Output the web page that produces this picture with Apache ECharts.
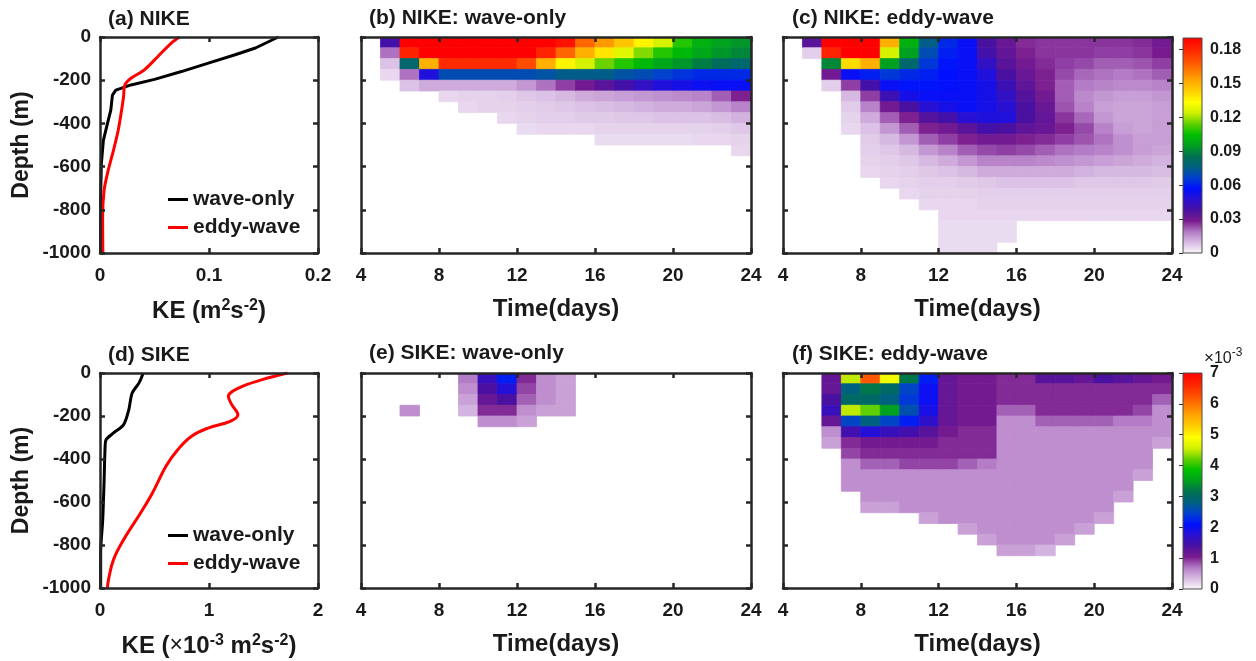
<!DOCTYPE html>
<html><head><meta charset="utf-8">
<script src="https://cdn.jsdelivr.net/npm/echarts@6/dist/echarts.min.js"></script>
<style>html,body{margin:0;padding:0;background:#fff}#c{width:1256px;height:661px}</style>
</head><body><div id="c"></div>
<script>
// ---------- data ----------
const timeEdges = [4,5,6,7,8,9,10,11,12,13,14,15,16,17,18,19,20,21,22,23,24];
const depthEdges = [0,-50,-100,-150,-200,-250,-300,-350,-400,-450,-500,-550,-600,-650,-700,-750,-800,-850,-900,-950,-1000];

// KE fields, one inner array per day column (top -> bottom, 50 m layers); NIKE in 1e-3 m2/s2, SIKE in 1e-4 m2/s2
const nikeWaveCols = [
  [],
  [40,20,8,3],
  [190,180,80,20,8],
  [190,190,150,50,12],
  [190,190,178,70,12,3],
  [190,190,178,70,12,4,3],
  [190,190,178,70,12,4,4],
  [190,190,178,70,12,5,4,3],
  [190,190,170,70,15,7,5,4,2],
  [190,180,150,72,20,8,6,5,3],
  [185,165,135,75,25,10,7,5,3],
  [165,150,125,75,30,12,8,6,3],
  [155,138,115,75,35,13,9,6,4,2],
  [145,127,108,72,40,14,10,7,4,2],
  [135,117,102,70,45,15,11,7,4,2],
  [125,108,97,67,50,16,12,8,4,2],
  [108,102,93,64,52,17,12,8,4,2],
  [100,97,88,62,54,18,13,8,4,3],
  [96,93,83,62,55,22,15,9,5,3],
  [93,90,80,62,55,28,18,11,7,4,3]
];
const nikeEddyCols = [
  [],
  [35,5],
  [190,180,90,30,5],
  [190,190,140,55,25,10,6,4,3],
  [190,190,150,60,40,25,18,12,8,6,5,4,3],
  [150,125,95,65,55,42,30,22,15,10,7,5,4,3],
  [100,95,80,62,58,52,38,28,22,15,10,7,5,4,3],
  [75,70,65,60,58,55,48,36,28,22,15,10,7,5,4,3],
  [62,60,58,57,56,55,52,40,30,25,18,12,8,5,4,3,3,2,2,2],
  [55,55,55,55,55,55,55,48,35,28,22,15,10,6,4,3,3,2,2,2],
  [38,40,45,50,52,52,52,50,40,30,24,18,12,7,5,4,3,2,2,2],
  [32,33,35,38,42,45,48,50,38,30,25,18,12,8,5,4,3,2,2],
  [27,28,30,32,34,36,38,38,34,28,24,18,12,8,5,4,3],
  [26,26,27,28,28,30,32,33,32,27,22,17,12,8,5,4,3],
  [26,26,25,24,22,22,23,26,28,25,20,16,12,8,5,4,3],
  [26,26,24,21,19,17,18,21,24,23,19,15,11,7,5,4,3],
  [26,25,22,20,18,15,14,15,18,20,18,14,10,7,5,4,3],
  [26,25,22,19,17,14,13,13,14,16,16,13,10,7,5,4,3],
  [27,26,23,20,17,14,13,13,13,14,14,12,10,7,5,4,3],
  [30,29,25,22,18,15,14,14,14,14,13,11,9,6,5,4,3]
];
const sikeWaveCols = [
  [], [], [0,0,0,6], [], [],
  [7,6,5,4],
  [16,14,12,10,6],
  [22,18,14,10,6],
  [10,9,8,6,5],
  [6,6,6,5],
  [5,5,5,5],
  [], [], [], [], [], [], [], [], []
];
const sikeEddyCols = [
  [],
  [],
  [12,12,14,16,12,6,5],
  [45,28,30,45,25,15,10,9,6,6,6],
  [62,32,30,42,28,18,11,10,8,6,6,6,5],
  [48,30,28,35,25,16,11,10,8,6,6,6,5],
  [32,25,24,26,22,15,11,10,9,6,6,6,6],
  [22,20,20,19,17,13,11,10,9,6,6,6,6,5],
  [12,12,12,12,12,11,10,10,9,6,6,6,6,6],
  [11,11,11,11,11,10,10,10,8,6,6,6,6,6,5],
  [11,11,11,11,11,10,10,10,7,6,6,6,6,6,6,5],
  [10,10,10,8,6,6,6,6,6,6,6,6,6,6,6,6,5],
  [10,10,10,8,6,6,6,6,6,6,6,6,6,6,6,6,5],
  [13,10,10,10,8,6,6,6,6,6,6,6,6,6,6,6,4],
  [13,10,10,10,8,6,6,6,6,6,6,6,6,6,6,5],
  [12,10,10,10,8,6,6,6,6,6,6,6,6,6,5],
  [14,10,10,10,8,6,6,6,6,6,6,6,6,5],
  [13,10,10,10,7,6,6,6,6,6,6,5],
  [12,10,10,9,7,6,6,6,6,5],
  [11,10,8,6,6,6,5]
];

// time-mean profiles [KE, depth]
const nikeWaveProfile = [[0.1636,0],[0.1426,-51],[0.124,-82],[0.0994,-121],[0.0747,-160],[0.05,-196],[0.0284,-222],[0.0145,-246],[0.0114,-269],[0.0099,-339],[0.0068,-401],[0.0031,-479],[0.0012,-588],[0.0006,-743],[0.0006,-1000]];
const nikeEddyProfile = [[0.0731,0],[0.0654,-28],[0.0531,-90],[0.0407,-152],[0.0284,-191],[0.0228,-222],[0.0216,-277],[0.0198,-339],[0.0167,-432],[0.0123,-526],[0.0074,-619],[0.0037,-712],[0.0024,-837],[0.0026,-1000]];
const sikeWaveProfile = [[0.397,0],[0.357,-47],[0.295,-93],[0.264,-171],[0.217,-240],[0.124,-279],[0.056,-310],[0.047,-341],[0.037,-512],[0.025,-682],[0.006,-837],[0.006,-1000]];
const sikeEddyProfile = [[1.721,0],[1.488,-31],[1.271,-70],[1.178,-109],[1.209,-147],[1.265,-194],[1.194,-225],[0.992,-256],[0.837,-295],[0.713,-357],[0.605,-434],[0.481,-558],[0.372,-651],[0.217,-775],[0.124,-868],[0.078,-961],[0.068,-1000]];

const seriesNames = ['wave-only','eddy-wave'];
const nikeRange = [0, 190];   // 1e-3 units -> 0.19
const sikeRange = [0, 70];    // 1e-4 units -> 7e-3

// ---------- styles ----------
const cmap = ['#efe4f3','#d8bce3','#b47cc6','#7a1c8e','#4a10a0','#2a10d0','#0010ff','#0040d0','#006080','#007050','#00a020','#00c000','#60d000','#d0f000','#ffff00','#ffd000','#ffa800','#ff7800','#ff4800','#ff2000','#ff0000'];
const FONT = "'Liberation Sans', Arial, Helvetica, sans-serif";
const INK = '#262626';
const TXT = '#1a1a1a';

function cells(cols) {
  const out = [];
  cols.forEach((col, c) => col.forEach((v, r) => {
    if (v > 0) out.push([timeEdges[c], timeEdges[c + 1], depthEdges[r], depthEdges[r + 1], v]);
  }));
  return out;
}

function cellRender(params, api) {
  const a = api.coord([api.value(0), api.value(2)]);
  const b = api.coord([api.value(1), api.value(3)]);
  const color = api.visual('color');
  return { type: 'rect', shape: { x: a[0], y: a[1], width: b[0] - a[0], height: b[1] - a[1] },
           style: { fill: color, stroke: color, lineWidth: 0.8 } };
}

const cbStops = cmap.map((c, i) => ({ offset: i / (cmap.length - 1), color: i === 0 ? '#fbf8fc' : c }));
function cbRender(params, api) {
  const a = api.coord([api.value(0), api.value(3)]);
  const b = api.coord([api.value(1), api.value(2)]);
  return { type: 'rect', shape: { x: a[0], y: a[1], width: b[0] - a[0], height: b[1] - a[1] },
           style: { fill: new echarts.graphic.LinearGradient(0, 1, 0, 0, cbStops), stroke: '#4d4d4d', lineWidth: 1 } };
}

const grids = [
  { left: 100, top: 37, width: 218, height: 216 },
  { left: 361, top: 37, width: 390, height: 216 },
  { left: 783, top: 37, width: 389, height: 216 },
  { left: 100, top: 373, width: 218, height: 215 },
  { left: 361, top: 373, width: 390, height: 215 },
  { left: 783, top: 373, width: 389, height: 215 },
  { left: 1183, top: 38, width: 19, height: 215 },
  { left: 1183, top: 373, width: 19, height: 216 }
];

const supRich = {
  s: { fontSize: 16, fontWeight: 'bold', fontFamily: FONT, color: TXT, verticalAlign: 'top', lineHeight: 26 },
  x: { fontSize: 23, fontWeight: 'normal', fontFamily: FONT, color: TXT }
};

function xPair(gi, min, max, interval, name, nameGap, nameSize) {
  const base = { gridIndex: gi, type: 'value', min, max, interval, z: 5,
    axisLine: { show: true, onZero: false, lineStyle: { color: INK, width: 2.5 } },
    axisTick: { show: true, inside: true, length: 5, lineStyle: { color: INK, width: 2.5 } },
    splitLine: { show: false } };
  return [
    Object.assign({}, base, { position: 'bottom',
      axisLabel: { show: true, margin: 13, fontSize: 19, fontWeight: 'bold', color: TXT, fontFamily: FONT },
      name, nameLocation: 'middle', nameGap,
      nameTextStyle: { fontSize: nameSize, fontWeight: 'bold', color: TXT, fontFamily: FONT, lineHeight: 26, rich: supRich } }),
    Object.assign({}, base, { position: 'top', axisLabel: { show: false } })
  ];
}
function yPair(gi, showLabel) {
  const base = { gridIndex: gi, type: 'value', min: -1000, max: 0, interval: 200, z: 5,
    axisLine: { show: true, onZero: false, lineStyle: { color: INK, width: 2.5 } },
    axisTick: { show: true, inside: true, length: 5, lineStyle: { color: INK, width: 2.5 } },
    splitLine: { show: false } };
  const left = Object.assign({}, base, { position: 'left',
    axisLabel: { show: showLabel, margin: 9, fontSize: 19, fontWeight: 'bold', color: TXT, fontFamily: FONT,
      formatter: v => String(v) } });
  if (showLabel) Object.assign(left, { name: 'Depth (m)', nameLocation: 'middle', nameGap: 67, nameRotate: 90,
    nameTextStyle: { fontSize: 23, fontWeight: 'bold', color: TXT, fontFamily: FONT } });
  return [left, Object.assign({}, base, { position: 'right', axisLabel: { show: false } })];
}

const xAxes = [
  ...xPair(0, 0, 0.2, 0.1, 'KE (m{s|2}s{s|-2})', 45, 24),
  ...xPair(1, 4, 24, 4, 'Time(days)', 43, 24),
  ...xPair(2, 4, 24, 4, 'Time(days)', 43, 24),
  ...xPair(3, 0, 2, 1, 'KE ({x|×}10{s|-3} m{s|2}s{s|-2})', 45, 24),
  ...xPair(4, 4, 24, 4, 'Time(days)', 43, 24),
  ...xPair(5, 4, 24, 4, 'Time(days)', 43, 24),
  { gridIndex: 6, type: 'value', min: 0, max: 1, show: false },
  { gridIndex: 7, type: 'value', min: 0, max: 1, show: false }
];
const cbAxisBase = { type: 'value', position: 'right', z: 5,
  axisLine: { show: false }, splitLine: { show: false },
  axisTick: { show: true, inside: true, length: 4, lineStyle: { color: '#333', width: 1 } } };
const yAxes = [
  ...yPair(0, true), ...yPair(1, false), ...yPair(2, false),
  ...yPair(3, true), ...yPair(4, false), ...yPair(5, false),
  Object.assign({}, cbAxisBase, { gridIndex: 6, min: nikeRange[0] / 1000, max: nikeRange[1] / 1000, interval: 0.03,
    axisLabel: { showMaxLabel: false, margin: 8, fontSize: 16, fontWeight: 'bold', color: TXT, fontFamily: FONT,
      formatter: v => (Math.abs(v) < 1e-9 ? '0' : v.toFixed(2)) } }),
  Object.assign({}, cbAxisBase, { gridIndex: 7, min: sikeRange[0] / 10, max: sikeRange[1] / 10, interval: 1,
    axisLabel: { margin: 8, fontSize: 16, fontWeight: 'bold', color: TXT, fontFamily: FONT } })
];

function lineSeries(name, data, gi, color, smooth) {
  return { type: 'line', name, data, xAxisIndex: 2 * gi, yAxisIndex: 2 * gi, showSymbol: false, smooth,
    color, lineStyle: { color, width: 3 }, z: 3, silent: true };
}
function cellSeries(cols, gi) {
  return { type: 'custom', data: cells(cols), xAxisIndex: 2 * gi, yAxisIndex: 2 * gi,
    encode: { x: [0, 1], y: [2, 3] }, renderItem: cellRender, clip: true, silent: true };
}

const series = [
  lineSeries(seriesNames[0], nikeWaveProfile, 0, '#000000', false),
  lineSeries(seriesNames[1], nikeEddyProfile, 0, '#ff0000', 0.3),
  lineSeries(seriesNames[0], sikeWaveProfile, 3, '#000000', 0.3),
  lineSeries(seriesNames[1], sikeEddyProfile, 3, '#ff0000', 0.4),
  cellSeries(nikeWaveCols, 1),
  cellSeries(nikeEddyCols, 2),
  cellSeries(sikeWaveCols, 4),
  cellSeries(sikeEddyCols, 5),
  { type: 'custom', data: [[0, 1, nikeRange[0] / 1000, nikeRange[1] / 1000]], xAxisIndex: 12, yAxisIndex: 12,
    encode: { x: [0, 1], y: [2, 3] }, renderItem: cbRender, silent: true },
  { type: 'custom', data: [[0, 1, sikeRange[0] / 10, sikeRange[1] / 10]], xAxisIndex: 13, yAxisIndex: 13,
    encode: { x: [0, 1], y: [2, 3] }, renderItem: cbRender, silent: true }
];

const titleStyle = { fontSize: 21, fontWeight: 'bold', color: TXT, fontFamily: FONT };
const titles = [
  ['(a) NIKE', 108, 9], ['(b) NIKE: wave-only', 369, 8], ['(c) NIKE: eddy-wave', 792, 8],
  ['(d) SIKE', 108, 345], ['(e) SIKE: wave-only', 369, 343], ['(f) SIKE: eddy-wave', 792, 344]
].map(([text, left, top]) => ({ text, left, top, padding: 0, textStyle: titleStyle }));

const legendBase = { orient: 'vertical', icon: 'rect', itemWidth: 20, itemHeight: 3, itemGap: 7,
  selectedMode: false, padding: 0, data: seriesNames,
  textStyle: { fontSize: 21, fontWeight: 'bold', color: TXT, fontFamily: FONT } };

const option = {
  animation: false,
  backgroundColor: '#ffffff',
  title: titles,
  grid: grids,
  xAxis: xAxes,
  yAxis: yAxes,
  legend: [
    Object.assign({}, legendBase, { left: 168, top: 189 }),
    Object.assign({}, legendBase, { left: 168, top: 525 })
  ],
  visualMap: [
    { type: 'continuous', show: false, min: nikeRange[0], max: nikeRange[1], dimension: 4, seriesIndex: [4, 5], inRange: { color: cmap } },
    { type: 'continuous', show: false, min: sikeRange[0], max: sikeRange[1], dimension: 4, seriesIndex: [6, 7], inRange: { color: cmap } }
  ],
  graphic: [{
    type: 'text', left: 1204, top: 347,
    style: { text: '{x|×}{n|10}{s|-3}', rich: {
      x: { fontSize: 17, fontFamily: FONT, fill: TXT, verticalAlign: 'bottom', lineHeight: 20 },
      n: { fontSize: 16, fontFamily: FONT, fill: TXT, verticalAlign: 'bottom', lineHeight: 20 },
      s: { fontSize: 12, fontFamily: FONT, fill: TXT, verticalAlign: 'top', lineHeight: 20 } } }
  }],
  series
};

const chart = echarts.init(document.getElementById('c'), null, { renderer: 'canvas' });
chart.setOption(option);
</script>
</body></html>
